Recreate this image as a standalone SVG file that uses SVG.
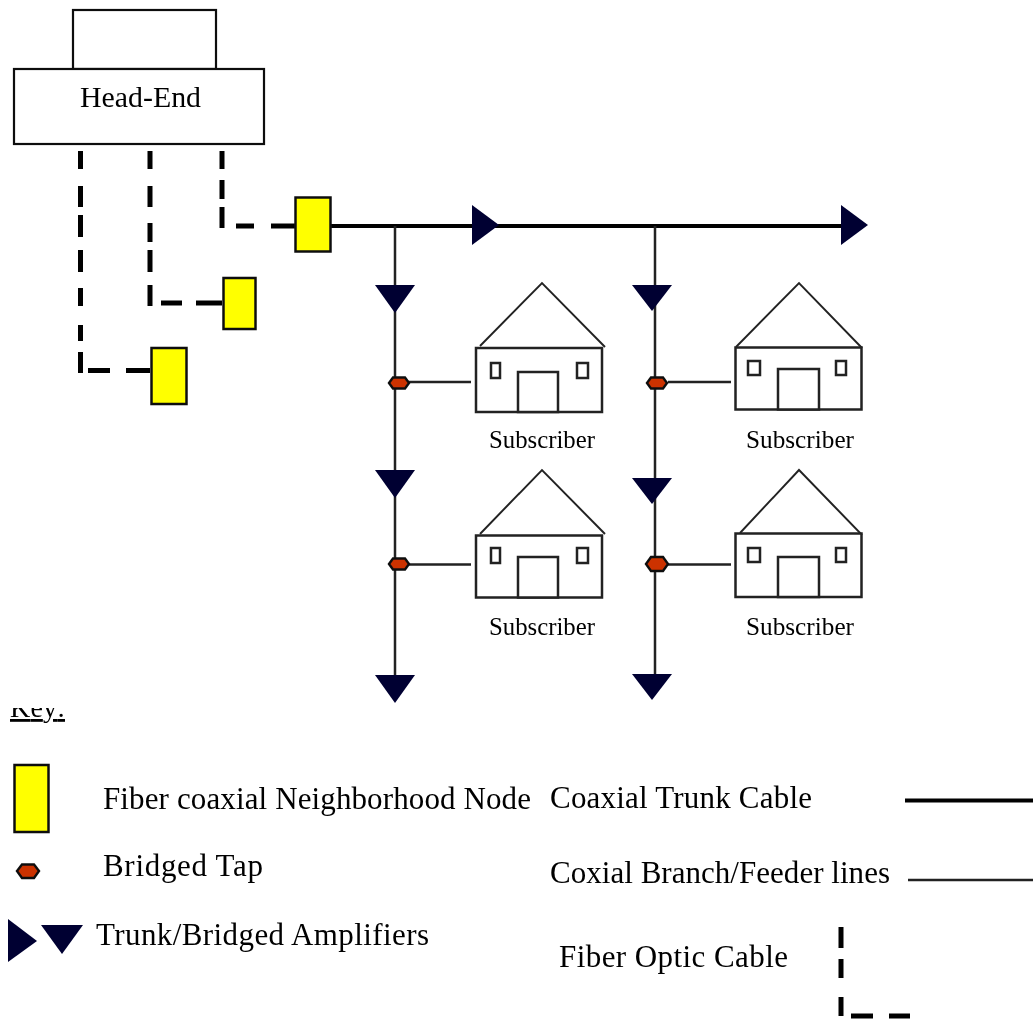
<svg xmlns="http://www.w3.org/2000/svg" width="1033" height="1024" viewBox="0 0 1033 1024">
<style>
.t{font-family:"Liberation Serif","Times New Roman",serif;fill:#000}
.lg{font-size:31px}
.sub{font-size:25px}
.box{fill:#fff;stroke:#111;stroke-width:2.2}
.node{fill:#ffff00;stroke:#111;stroke-width:2.5}
.tap{fill:#cc3300;stroke:#111;stroke-width:2.4}
.amp{fill:#000033}
.trunk{fill:none;stroke:#000;stroke-width:4}
.branch{fill:none;stroke:#222;stroke-width:2.5}
.fiber{fill:none;stroke:#000;stroke-width:5}
.house{fill:#fff;stroke:#222;stroke-width:2.5}
.roof{fill:none;stroke:#222;stroke-width:1.9}
</style>
<defs>
<path id="ampD" class="amp" d="M-20 0H20L0 28Z"/>
<path id="ampD2" class="amp" d="M-20 0H20L0 26Z"/>
<path id="ampR" class="amp" d="M0 -20L27 0L0 20Z"/>
<path id="tapS" class="tap" d="M-10 0L-6 -5.500H6L10 0L6 5.500H-6Z"/>
<clipPath id="keyclip"><rect x="0" y="708" width="100" height="20"/></clipPath>
<filter id="soft" filterUnits="userSpaceOnUse" x="0" y="0" width="1033" height="1024"><feGaussianBlur stdDeviation="0.45"/></filter>
</defs>
<rect width="1033" height="1024" fill="#fff"/>
<g filter="url(#soft)">
<g id="connectors">
<path class="fiber" d="M222 151V169M222 180V199M222 207V228M236 226H254M271 226H295"/>
<path class="fiber" d="M150 151V169M150 186V207M150 223V242M150 250V272M150 285V306M161 303H182M196 303H222"/>
<path class="fiber" d="M80.500 151V169M80.500 186V207M80.500 215V237M80.500 250V272M80.500 288V306M80.500 325V341M80.500 352V373M88 370.500H110M126 370.500H150"/>
<path class="trunk" d="M331 226H850"/>
<path class="branch" d="M395 226V690"/>
<path class="branch" d="M655 226V690"/>
<path class="branch" d="M408 382H471"/>
<path class="branch" d="M668 382H731"/>
<path class="branch" d="M408 564.500H471"/>
<path class="branch" d="M668 564.500H731"/>
</g>
<g id="head-end">
<rect class="box" x="73" y="10" width="143" height="59"/>
<rect class="box" x="14" y="69" width="250" height="75"/>
<text class="t" x="80" y="107" font-size="29" textLength="121" lengthAdjust="spacingAndGlyphs">Head-End</text>
</g>
<g id="node-1"><rect class="node" x="295.500" y="197.500" width="35" height="54"/></g>
<g id="node-2"><rect class="node" x="223.500" y="278" width="32" height="51"/></g>
<g id="node-3"><rect class="node" x="151.500" y="348" width="35" height="56"/></g>
<g id="trunk-amp-1"><use href="#ampR" x="472" y="225"/></g>
<g id="trunk-amp-2"><use href="#ampR" x="841" y="225"/></g>
<g id="amp-1"><use href="#ampD" x="395" y="285"/></g>
<g id="amp-2"><use href="#ampD" x="395" y="470"/></g>
<g id="amp-3"><use href="#ampD" x="395" y="675"/></g>
<g id="amp-4"><use href="#ampD2" x="652" y="285"/></g>
<g id="amp-5"><use href="#ampD2" x="652" y="478"/></g>
<g id="amp-6"><use href="#ampD2" x="652" y="674"/></g>
<g id="tap-1"><use href="#tapS" x="399" y="383"/></g>
<g id="tap-2"><use href="#tapS" x="657" y="383"/></g>
<g id="tap-3"><use href="#tapS" x="399" y="564"/></g>
<g id="tap-4"><path class="tap" d="M646 564L651 557H663L668 564L663 571H651Z"/></g>
<g id="subscriber-1">
<path class="roof" d="M480 346L542 283L605 347"/>
<rect class="house" x="476" y="348" width="126" height="64"/>
<rect class="house" x="491" y="363" width="9" height="15"/>
<rect class="house" x="577" y="363" width="11" height="15"/>
<rect class="house" x="518" y="372" width="40" height="40"/>
<text class="t sub" x="489" y="448" textLength="106" lengthAdjust="spacingAndGlyphs">Subscriber</text>
</g>
<g id="subscriber-2">
<path class="roof" d="M736 347L799 283L862 348"/>
<rect class="house" x="735.500" y="347.500" width="126" height="62"/>
<rect class="house" x="748" y="361" width="12" height="14"/>
<rect class="house" x="836" y="361" width="10" height="14"/>
<rect class="house" x="778" y="369" width="41" height="40.500"/>
<text class="t sub" x="746" y="448" textLength="108" lengthAdjust="spacingAndGlyphs">Subscriber</text>
</g>
<g id="subscriber-3">
<path class="roof" d="M480 534L542 470L605 534"/>
<rect class="house" x="476" y="535.500" width="126" height="62"/>
<rect class="house" x="491" y="548" width="9" height="15"/>
<rect class="house" x="577" y="548" width="11" height="15"/>
<rect class="house" x="518" y="557" width="40" height="40.500"/>
<text class="t sub" x="489" y="635" textLength="106" lengthAdjust="spacingAndGlyphs">Subscriber</text>
</g>
<g id="subscriber-4">
<path class="roof" d="M740 533L799 470L862 535"/>
<rect class="house" x="735.500" y="533.500" width="126" height="63.500"/>
<rect class="house" x="748" y="548" width="12" height="14"/>
<rect class="house" x="836" y="548" width="10" height="14"/>
<rect class="house" x="778" y="557" width="41" height="40"/>
<text class="t sub" x="746" y="635" textLength="108" lengthAdjust="spacingAndGlyphs">Subscriber</text>
</g>
<g id="legend">
<text class="t" x="10" y="717" font-size="28" clip-path="url(#keyclip)" text-decoration="underline" textLength="55">Key:</text>
<rect class="node" x="14.500" y="765" width="34" height="67"/>
<text class="t lg" x="103" y="809" textLength="428">Fiber coaxial Neighborhood Node</text>
<path class="tap" d="M17 871L22 864.500H34L39 871L34 878H22Z"/>
<text class="t lg" x="103" y="876" textLength="160">Bridged Tap</text>
<path class="amp" d="M8 919L37 941L8 962Z"/>
<path class="amp" d="M41 925H83L62 954Z"/>
<text class="t lg" x="96" y="945" textLength="333">Trunk/Bridged Amplifiers</text>
<text class="t lg" x="550" y="808" textLength="262">Coaxial Trunk Cable</text>
<path class="trunk" d="M905 800.500H1033"/>
<text class="t lg" x="550" y="883" textLength="340">Coxial Branch/Feeder lines</text>
<path class="branch" d="M908 880H1033"/>
<text class="t lg" x="559" y="967" textLength="229">Fiber Optic Cable</text>
<path class="fiber" d="M841 927V948M841 959V978M841 997V1016M851 1016H873M889 1016H910"/>
</g>
</g>
</svg>
